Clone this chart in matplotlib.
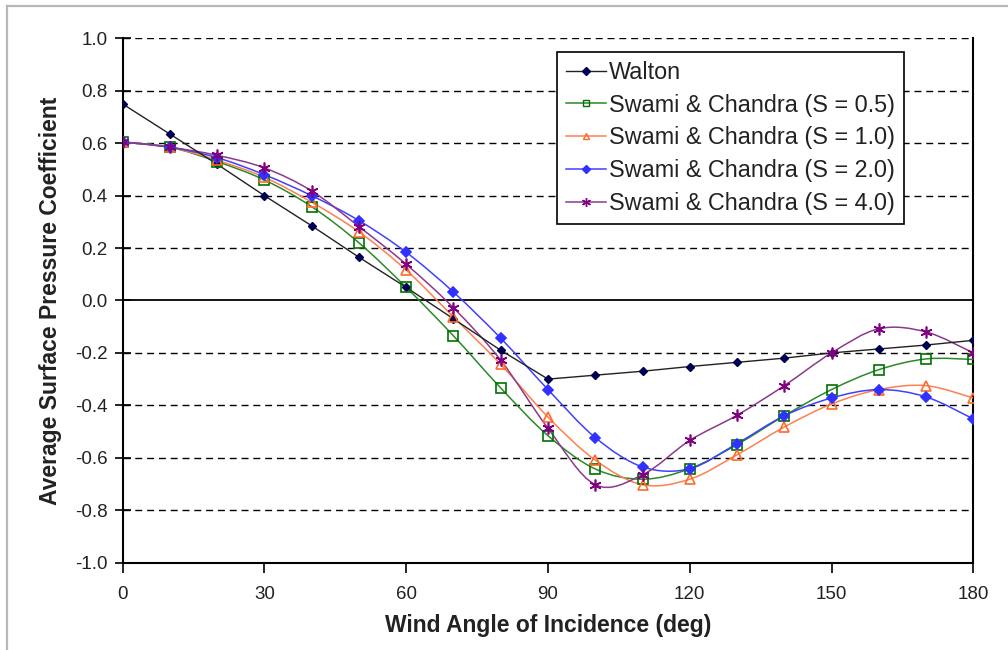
import numpy as np
import matplotlib
matplotlib.use('Agg')
import matplotlib.pyplot as plt
from matplotlib.path import Path
from matplotlib.patches import PathPatch
from matplotlib.lines import Line2D

plt.rcParams['font.family'] = ['Liberation Sans', 'DejaVu Sans']

# wind angle (deg)
angles = [0, 10, 20, 30, 40, 50, 60, 70, 80, 90, 100, 110, 120, 130, 140, 150, 160, 170, 180]

walton = [0.75, 0.635, 0.52, 0.40, 0.285, 0.165, 0.05, -0.07, -0.19, -0.30,
          -0.285, -0.27, -0.252, -0.236, -0.22, -0.20, -0.185, -0.17, -0.152]
sc_05 = [0.605, 0.585, 0.53, 0.46, 0.358, 0.22, 0.05, -0.135, -0.334, -0.516,
         -0.643, -0.682, -0.642, -0.55, -0.44, -0.34, -0.264, -0.223, -0.225]
sc_10 = [0.605, 0.585, 0.535, 0.47, 0.375, 0.262, 0.116, -0.063, -0.244, -0.445,
         -0.609, -0.703, -0.682, -0.589, -0.483, -0.395, -0.34, -0.325, -0.372]
sc_20 = [0.605, 0.585, 0.545, 0.48, 0.40, 0.305, 0.184, 0.032, -0.144, -0.34,
         -0.523, -0.635, -0.642, -0.546, -0.44, -0.372, -0.34, -0.368, -0.452]
sc_40 = [0.605, 0.585, 0.554, 0.506, 0.418, 0.282, 0.138, -0.028, -0.228, -0.488,
         -0.703, -0.665, -0.534, -0.438, -0.325, -0.20, -0.108, -0.12, -0.20]

labels = ['Walton', 'Swami & Chandra (S = 0.5)', 'Swami & Chandra (S = 1.0)',
          'Swami & Chandra (S = 2.0)', 'Swami & Chandra (S = 4.0)']

y_ticks = [-1.0, -0.8, -0.6, -0.4, -0.2, 0.0, 0.2, 0.4, 0.6, 0.8, 1.0]
x_ticks = [0, 30, 60, 90, 120, 150, 180]


def smooth_path(x, y):
    # excel style smoothed line: cubic bezier through the points
    pts = np.column_stack([x, y]).astype(float)
    n = len(pts)
    verts = [pts[0]]
    codes = [Path.MOVETO]
    for i in range(n - 1):
        p0 = pts[i - 1] if i > 0 else pts[i]
        p1 = pts[i]
        p2 = pts[i + 1]
        p3 = pts[i + 2] if i + 2 < n else pts[i + 1]
        c1 = p1 + (p2 - p0) / 6.0
        c2 = p2 - (p3 - p1) / 6.0
        verts += [c1, c2, p2]
        codes += [Path.CURVE4] * 3
    return Path(verts, codes)


fig = plt.figure(figsize=(10.08, 6.5), dpi=100)
ax = fig.add_axes([0.1217, 0.1346, 0.8439, 0.8062])

# grid lines
for yv in y_ticks:
    if yv == 0.0:
        ax.axhline(0, color='black', lw=1.3, zorder=1)
    elif yv > -1.0:
        ax.axhline(yv, color='black', lw=1.0, ls=(0, (5, 3.5)), zorder=1)

# Walton: straight segments
ax.plot(angles, walton, color='#222222', lw=1.0, marker='D', ms=4.5,
        mfc='#000050', mec='#000050', zorder=5)

styles = [
    (sc_05, '#2a8a2a', 's', 6.5, 'none', '#007000'),
    (sc_10, '#ff7f50', '^', 6.5, 'none', '#ff6a2a'),
    (sc_20, '#4040ff', 'D', 5, '#3030ff', '#3030ff'),
    (sc_40, '#8b3a8b', (6, 2, 0), 8.5, '#800080', '#800080'),
]
handles = [Line2D([], [], color='#222222', lw=1.0, marker='D', ms=4,
                  mfc='#000050', mec='#000050')]
for vals, lc, mk, ms, mfc, mec in styles:
    patch = PathPatch(smooth_path(angles, vals), facecolor='none', edgecolor=lc,
                      lw=1.1, zorder=4)
    ax.add_patch(patch)
    ax.plot(angles, vals, ls='none', marker=mk, ms=ms, mfc=mfc, mec=mec,
            mew=1.2, zorder=6)
    handles.append(Line2D([], [], color=lc, lw=1.1, marker=mk, ms=ms * 0.75,
                          mfc=mfc, mec=mec, mew=1.0))

ax.set_xlim(0, 180)
ax.set_ylim(-1.0, 1.0)
ax.set_xticks(x_ticks)
ax.set_yticks(y_ticks)
ax.set_yticklabels([f'{v:.1f}' for v in y_ticks])

ax.spines['top'].set_visible(False)
for s in ['left', 'right', 'bottom']:
    ax.spines[s].set_linewidth(1.5)
ax.tick_params(axis='y', direction='inout', length=12, width=1.2, labelsize=13.5,
               labelcolor='#222222', pad=5)
ax.tick_params(axis='x', direction='out', length=7, width=1.2, labelsize=13.5,
               labelcolor='#222222', pad=10)

ax.set_xlabel('Wind Angle of Incidence (deg)', fontsize=16.5, fontweight='bold',
              color='#222222', labelpad=8)
ax.set_ylabel('Average Surface Pressure Coefficient', fontsize=16.5,
              fontweight='bold', color='#222222', labelpad=9)

leg = ax.legend(handles, labels, loc='upper right', bbox_to_anchor=(0.9185, 0.9745),
                fontsize=16.8, frameon=True, fancybox=False, framealpha=1,
                edgecolor='black', handlelength=1.7, handletextpad=0.15,
                labelspacing=0.42, borderpad=0.38, borderaxespad=0)
leg.get_frame().set_linewidth(1.2)
for t in leg.get_texts():
    t.set_color('#222222')

# light grey outer border (top and left)
fig.add_artist(Line2D([0.0065, 0.0065], [0.0, 0.991], transform=fig.transFigure,
                      color='#b8b8b8', lw=1.6))
fig.add_artist(Line2D([0.0065, 1.0], [0.991, 0.991], transform=fig.transFigure,
                      color='#b8b8b8', lw=1.6))

fig.savefig('out.png', dpi=100)
